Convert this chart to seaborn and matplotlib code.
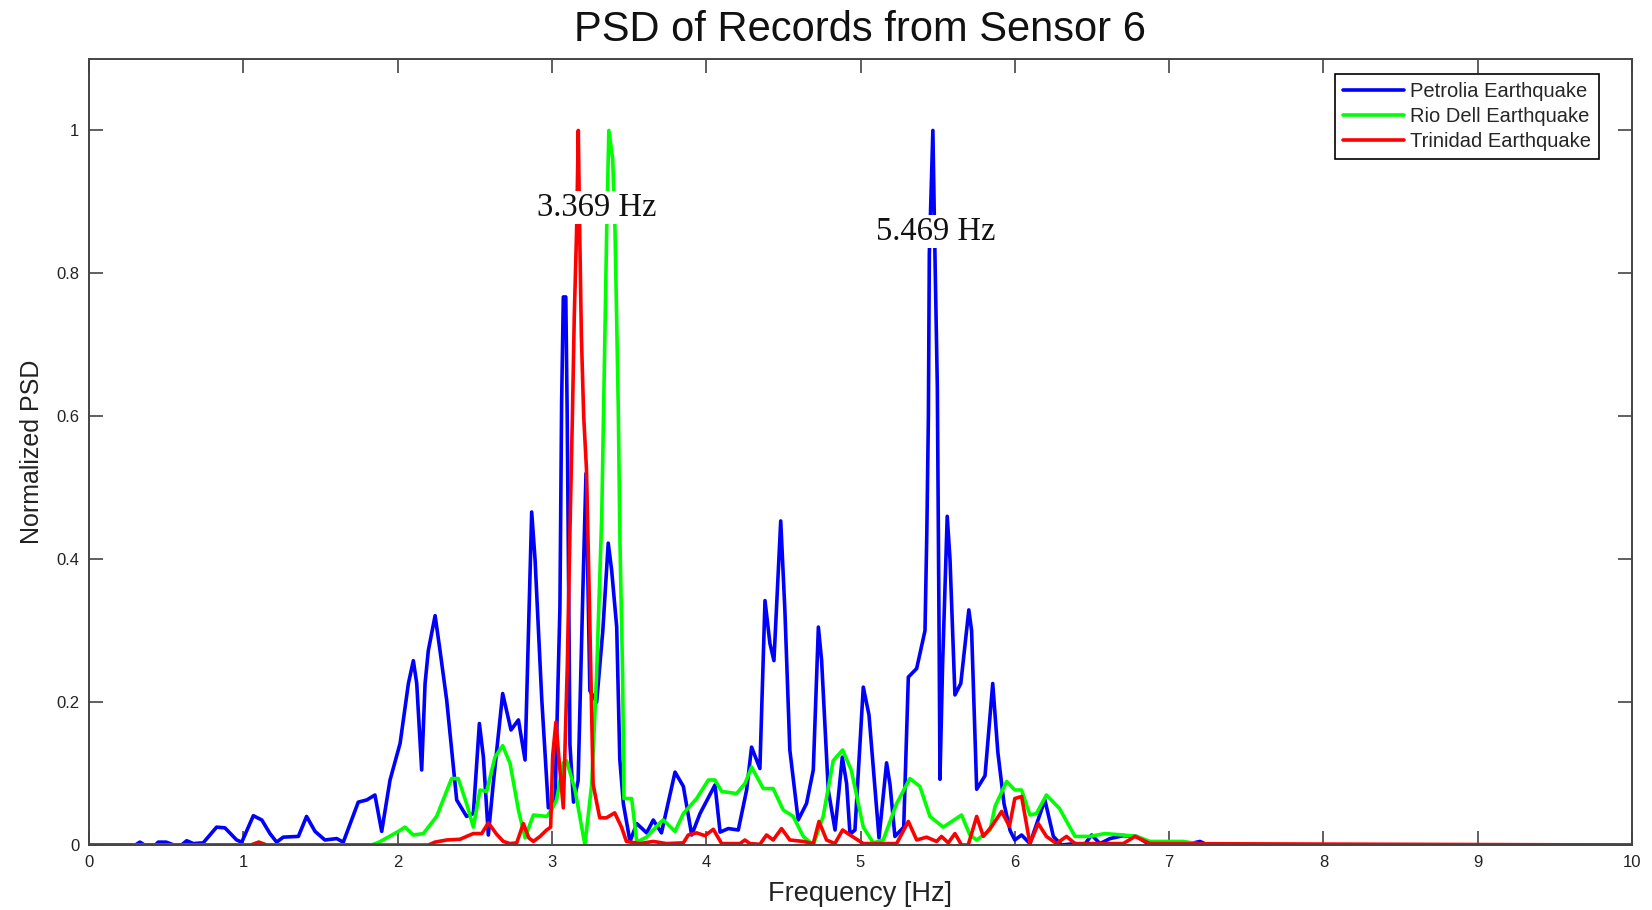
import matplotlib
matplotlib.use("Agg")
import matplotlib.pyplot as plt
import seaborn as sns
import pandas as pd

# ---------------- data ----------------
petrolia_f = [0.0, 0.3, 0.33, 0.36, 0.43, 0.449, 0.5, 0.55, 0.6, 0.633, 0.676, 0.74, 0.827, 0.881,
              0.957, 0.99, 1.065, 1.12, 1.173, 1.216, 1.259, 1.357, 1.41, 1.465, 1.529, 1.605, 1.648,
              1.745, 1.8, 1.853, 1.897, 1.951, 2.016, 2.07, 2.102, 2.124, 2.156, 2.178, 2.199, 2.243,
              2.275, 2.318, 2.383, 2.447, 2.491, 2.53, 2.556, 2.588, 2.62, 2.681, 2.735, 2.783, 2.826,
              2.869, 2.891, 2.934, 2.977, 3.02, 3.052, 3.063, 3.074, 3.09, 3.099, 3.117, 3.14, 3.17,
              3.2, 3.221, 3.246, 3.29, 3.33, 3.365, 3.387, 3.42, 3.44, 3.463, 3.506, 3.55, 3.614,
              3.657, 3.71, 3.798, 3.852, 3.906, 3.96, 4.057, 4.09, 4.143, 4.208, 4.262, 4.294, 4.348,
              4.381, 4.413, 4.439, 4.456, 4.483, 4.51, 4.542, 4.596, 4.65, 4.694, 4.727, 4.748, 4.791,
              4.835, 4.882, 4.91, 4.932, 4.964, 5.018, 5.055, 5.12, 5.169, 5.191, 5.223, 5.28, 5.31,
              5.364, 5.418, 5.43, 5.44, 5.446, 5.469, 5.483, 5.498, 5.51, 5.515, 5.532, 5.562, 5.58,
              5.612, 5.65, 5.702, 5.72, 5.753, 5.807, 5.857, 5.89, 5.93, 5.97, 6.0, 6.044, 6.098,
              6.195, 6.25, 6.303, 6.39, 6.45, 6.498, 6.552, 6.617, 6.703, 6.79, 6.876, 7.0, 7.05,
              7.1, 7.2, 7.25, 10.0]
petrolia_v = [0.0, 0.0, 0.004, 0.0, 0.0, 0.004, 0.004, 0.0, 0.0, 0.006, 0.002, 0.003, 0.025, 0.024,
              0.007, 0.004, 0.041, 0.035, 0.016, 0.004, 0.011, 0.012, 0.04, 0.019, 0.007, 0.009, 0.004,
              0.06, 0.063, 0.07, 0.019, 0.091, 0.142, 0.226, 0.258, 0.226, 0.105, 0.226, 0.272, 0.321,
              0.272, 0.203, 0.063, 0.04, 0.044, 0.17, 0.123, 0.014, 0.086, 0.212, 0.161, 0.175, 0.119,
              0.466, 0.399, 0.205, 0.052, 0.06, 0.332, 0.62, 0.767, 0.767, 0.605, 0.14, 0.06, 0.09,
              0.35, 0.52, 0.216, 0.2, 0.3, 0.4225, 0.385, 0.305, 0.12, 0.058, 0.005, 0.03, 0.017,
              0.035, 0.017, 0.102, 0.082, 0.014, 0.044, 0.084, 0.018, 0.023, 0.021, 0.077, 0.137, 0.107,
              0.342, 0.282, 0.258, 0.333, 0.4535, 0.328, 0.133, 0.035, 0.058, 0.105, 0.305, 0.258, 0.077,
              0.021, 0.123, 0.086, 0.015, 0.021, 0.221, 0.182, 0.01, 0.115, 0.085, 0.012, 0.025, 0.235,
              0.247, 0.3, 0.44, 0.6, 0.827, 1.0, 0.82, 0.64, 0.272, 0.092, 0.252, 0.46, 0.40,
              0.21, 0.226, 0.329, 0.3, 0.078, 0.097, 0.226, 0.13, 0.058, 0.02, 0.007, 0.014, 0.002,
              0.063, 0.012, 0.0, 0.002, 0.0, 0.014, 0.002, 0.009, 0.013, 0.012, 0.0, 0.0, 0.004,
              0.0, 0.005, 0.0, 0.0]

riodell_f = [0.0, 1.05, 1.1, 1.15, 1.832, 1.88, 2.005, 2.048, 2.102, 2.167, 2.253, 2.35, 2.393, 2.447,
             2.491, 2.534, 2.577, 2.631, 2.681, 2.729, 2.783, 2.826, 2.88, 2.966, 2.998, 3.03, 3.074,
             3.095, 3.149, 3.214, 3.258, 3.29, 3.323, 3.345, 3.355, 3.369, 3.394, 3.409, 3.43, 3.441,
             3.458, 3.467, 3.517, 3.55, 3.614, 3.7, 3.722, 3.798, 3.852, 3.938, 4.014, 4.057, 4.1,
             4.197, 4.251, 4.294, 4.37, 4.434, 4.499, 4.564, 4.629, 4.694, 4.758, 4.823, 4.884, 4.94,
             5.018, 5.083, 5.147, 5.234, 5.32, 5.385, 5.45, 5.536, 5.655, 5.709, 5.753, 5.84, 5.872,
             5.947, 6.0, 6.044, 6.098, 6.14, 6.205, 6.29, 6.39, 6.487, 6.584, 6.703, 6.79, 6.876,
             7.09, 7.178, 7.3, 10.0]
riodell_v = [0.0, 0.0, 0.004, 0.0, 0.0, 0.004, 0.019, 0.025, 0.014, 0.016, 0.04, 0.093, 0.093, 0.058,
             0.025, 0.077, 0.075, 0.123, 0.139, 0.114, 0.049, 0.01, 0.042, 0.04, 0.049, 0.063, 0.115,
             0.118, 0.078, 0.0, 0.085, 0.24, 0.46, 0.733, 0.86, 1.0, 0.96, 0.86, 0.613, 0.425,
             0.24, 0.065, 0.065, 0.004, 0.011, 0.031, 0.035, 0.019, 0.044, 0.065, 0.091, 0.091, 0.075,
             0.072, 0.086, 0.109, 0.079, 0.079, 0.049, 0.04, 0.012, 0.0, 0.04, 0.118, 0.133, 0.105,
             0.025, 0.003, 0.007, 0.058, 0.093, 0.082, 0.04, 0.025, 0.042, 0.014, 0.007, 0.021, 0.054,
             0.089, 0.077, 0.077, 0.042, 0.044, 0.07, 0.051, 0.012, 0.012, 0.016, 0.014, 0.012, 0.005,
             0.005, 0.002, 0.0, 0.0]

trinidad_f = [0.0, 1.05, 1.1, 1.15, 2.2, 2.242, 2.318, 2.404, 2.49, 2.545, 2.588, 2.642, 2.685, 2.728,
              2.772, 2.815, 2.85, 2.88, 2.923, 2.966, 2.992, 3.005, 3.026, 3.052, 3.074, 3.1, 3.117,
              3.134, 3.145, 3.16, 3.171, 3.18, 3.191, 3.206, 3.224, 3.241, 3.267, 3.31, 3.353, 3.407,
              3.451, 3.483, 3.57, 3.657, 3.743, 3.852, 3.884, 3.938, 3.992, 4.046, 4.1, 4.219, 4.251,
              4.283, 4.348, 4.391, 4.434, 4.488, 4.542, 4.629, 4.694, 4.731, 4.78, 4.834, 4.884, 4.932,
              5.018, 5.234, 5.31, 5.364, 5.428, 5.493, 5.525, 5.569, 5.612, 5.655, 5.698, 5.753, 5.796,
              5.85, 5.915, 5.965, 6.0, 6.044, 6.098, 6.152, 6.205, 6.27, 6.335, 6.39, 6.703, 6.779,
              6.876, 10.0]
trinidad_v = [0.0, 0.0, 0.004, 0.0, 0.0, 0.004, 0.007, 0.008, 0.016, 0.016, 0.031, 0.015, 0.005, 0.002,
              0.003, 0.03, 0.01, 0.005, 0.012, 0.021, 0.025, 0.125, 0.172, 0.105, 0.052, 0.252, 0.44,
              0.613, 0.74, 0.86, 1.0, 0.86, 0.713, 0.6, 0.526, 0.36, 0.085, 0.038, 0.038, 0.045,
              0.025, 0.005, 0.002, 0.005, 0.002, 0.003, 0.014, 0.017, 0.013, 0.022, 0.002, 0.002, 0.007,
              0.002, 0.001, 0.014, 0.007, 0.023, 0.007, 0.005, 0.002, 0.033, 0.007, 0.002, 0.021, 0.014,
              0.002, 0.002, 0.033, 0.007, 0.011, 0.005, 0.012, 0.003, 0.016, 0.0, 0.0, 0.04, 0.012,
              0.026, 0.047, 0.026, 0.065, 0.068, 0.002, 0.03, 0.012, 0.002, 0.012, 0.002, 0.002, 0.012,
              0.002, 0.0]

series_names = ["Petrolia Earthquake", "Rio Dell Earthquake", "Trinidad Earthquake"]
series_colors = ["#0000FF", "#00FF00", "#FF0000"]

x_ticks = [0, 1, 2, 3, 4, 5, 6, 7, 8, 9, 10]
x_tick_labels = ["0", "1", "2", "3", "4", "5", "6", "7", "8", "9", "10"]
y_ticks = [0, 0.2, 0.4, 0.6, 0.8, 1.0]
y_tick_labels = ["0", "0.2", "0.4", "0.6", "0.8", "1"]

peak_labels = ["3.369 Hz", "5.469 Hz"]
peak_label_x = [3.288, 5.486]
peak_label_y = [0.892, 0.858]

# ---------------- plotting ----------------
sns.set_style("ticks")
plt.rcParams["font.family"] = ["Liberation Sans", "DejaVu Sans"]

fig = plt.figure(figsize=(16.52, 9.10), dpi=100)
ax = fig.add_axes([89 / 1652, 65 / 910, 1543 / 1652, 786 / 910])

frames = [
    pd.DataFrame({"f": petrolia_f, "v": petrolia_v}),
    pd.DataFrame({"f": riodell_f, "v": riodell_v}),
    pd.DataFrame({"f": trinidad_f, "v": trinidad_v}),
]
for df, name, col in zip(frames, series_names, series_colors):
    sns.lineplot(data=df, x="f", y="v", ax=ax, color=col, linewidth=2.6,
                 label=name, estimator=None, sort=False)

for txt, tx, ty in zip(peak_labels, peak_label_x, peak_label_y):
    ax.text(tx, ty, txt, ha="center", va="center", fontsize=23.5,
            family=["Liberation Serif", "DejaVu Serif"], color="#111111", zorder=10,
            bbox=dict(facecolor="white", edgecolor="none", pad=1.0))

ax.set_xlim(0, 10)
ax.set_ylim(0, 1.1)
ax.set_xticks(x_ticks)
ax.set_xticklabels(x_tick_labels)
ax.set_yticks(y_ticks)
ax.set_yticklabels(y_tick_labels)
ax.tick_params(direction="in", length=10, width=1.2, color="#444444",
               top=True, right=True, labelsize=12, labelcolor="#222222", pad=7)
for sp in ax.spines.values():
    sp.set_color("#444444")
    sp.set_linewidth(1.4)

ax.set_xlabel("Frequency [Hz]", fontsize=19.5, color="#222222", labelpad=8)
ax.set_ylabel("Normalized PSD", fontsize=18, color="#222222", labelpad=9)
ax.set_title("PSD of Records from Sensor 6", fontsize=30, color="#111111", pad=13)

leg = ax.legend(loc="upper right", bbox_to_anchor=(0.9786, 0.981), borderaxespad=0,
                fontsize=14.5, handlelength=3.0, labelspacing=0.3, borderpad=0.4,
                handletextpad=0.3, fancybox=False, framealpha=1, edgecolor="black")
leg.get_frame().set_linewidth(1.2)

fig.savefig("out.png", dpi=100)
